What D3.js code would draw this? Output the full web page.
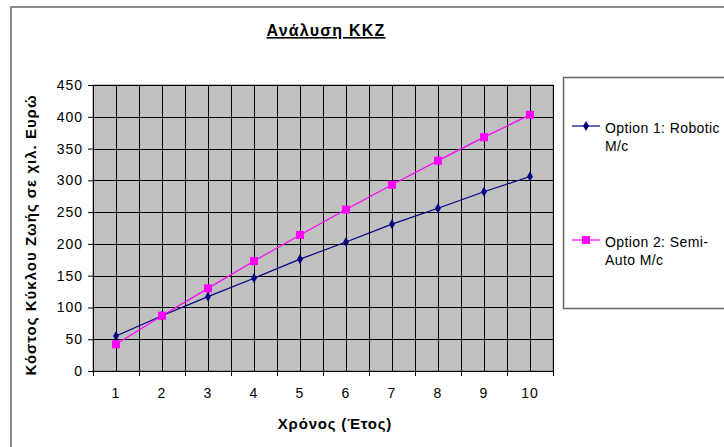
<!DOCTYPE html>
<html>
<head>
<meta charset="utf-8">
<script src="https://cdn.jsdelivr.net/npm/d3@7"></script>
<style>
  body { margin: 0; background: #fff; }
  svg { font-family: "Liberation Sans", Arial, sans-serif; display: block; }
</style>
</head>
<body>
<div id="chart"></div>
<script>
// data
const years = [1, 2, 3, 4, 5, 6, 7, 8, 9, 10];
const robotic = [55, 87, 117, 146, 176, 203, 231, 256, 282, 306];
const semiAuto = [42, 87, 130, 173, 214, 254, 293, 331, 368, 403];
const yTicks = [0, 50, 100, 150, 200, 250, 300, 350, 400, 450];
const seriesNames = [['Option 1: Robotic', 'M/c'], ['Option 2: Semi-', 'Auto M/c']];

const width = 724, height = 447;
const margin = { top: 85, right: 171, bottom: 76, left: 93 };
const innerW = width - margin.left - margin.right;
const innerH = height - margin.top - margin.bottom;

const svg = d3.select('#chart').append('svg')
  .attr('width', width)
  .attr('height', height);

// outer chart border
svg.append('rect')
  .attr('x', 11).attr('y', 7)
  .attr('width', 740).attr('height', 460)
  .attr('fill', 'none').attr('stroke', '#666').attr('stroke-width', 1.5);

const g = svg.append('g')
  .attr('transform', `translate(${margin.left}, ${margin.top})`);

const x = d3.scaleBand().domain(years).range([0, innerW]).padding(0);
const bw = x.bandwidth();
const cx = d => x(d) + bw / 2;
const y = d3.scaleLinear().domain([0, 450]).range([innerH, 0]);

// plot area
g.append('rect')
  .attr('width', innerW).attr('height', innerH)
  .attr('fill', '#c0c0c0').attr('stroke', '#808080');

// vertical gridlines at band edges and centers
const vLines = [];
years.forEach(d => { vLines.push(x(d)); vLines.push(cx(d)); });
vLines.push(innerW);
g.append('g').selectAll('line')
  .data(vLines)
  .join('line')
  .attr('x1', d => Math.round(d) + 0.5).attr('x2', d => Math.round(d) + 0.5)
  .attr('y1', 0).attr('y2', innerH)
  .attr('stroke', '#000').attr('stroke-width', 1);

// horizontal gridlines
g.append('g').selectAll('line')
  .data(yTicks)
  .join('line')
  .attr('x1', 0).attr('x2', innerW)
  .attr('y1', d => Math.round(y(d)) + 0.5).attr('y2', d => Math.round(y(d)) + 0.5)
  .attr('stroke', '#000').attr('stroke-width', 1);

// y axis
g.append('g')
  .call(d3.axisLeft(y).tickValues(yTicks).tickSize(5).tickPadding(5))
  .call(a => {
    a.selectAll('.tick text')
      .attr('font-size', '14px').attr('letter-spacing', '1px').attr('fill', '#000');
    a.selectAll('line, path').attr('stroke', '#000');
  });

// x axis: ticks at band edges, labels at centers
const xAxis = g.append('g').attr('transform', `translate(0, ${innerH})`);
xAxis.append('line')
  .attr('x1', 0).attr('x2', innerW)
  .attr('y1', 0.5).attr('y2', 0.5).attr('stroke', '#000');
xAxis.selectAll('.edge')
  .data(years.map(d => x(d)).concat([innerW]))
  .join('line')
  .attr('class', 'edge')
  .attr('x1', d => Math.round(d) + 0.5).attr('x2', d => Math.round(d) + 0.5)
  .attr('y1', 0).attr('y2', 5)
  .attr('stroke', '#000');
xAxis.selectAll('text')
  .data(years)
  .join('text')
  .attr('x', d => cx(d))
  .attr('y', 27)
  .attr('text-anchor', 'middle')
  .attr('font-size', '14px')
  .attr('letter-spacing', '1px')
  .text(d => d);

// series
const line = d3.line().x((d, i) => cx(years[i])).y(d => y(d));

g.append('path')
  .datum(robotic)
  .attr('d', line)
  .attr('fill', 'none').attr('stroke', '#000080').attr('stroke-width', 1.2);

g.append('path')
  .datum(semiAuto)
  .attr('d', line)
  .attr('fill', 'none').attr('stroke', '#ff00ff').attr('stroke-width', 1.2);

const diamond = d3.symbol().type(d3.symbolDiamond).size(30);

g.append('g').selectAll('path')
  .data(robotic)
  .join('path')
  .attr('transform', (d, i) => `translate(${cx(years[i])}, ${y(d)})`)
  .attr('d', diamond)
  .attr('fill', '#000080');

g.append('g').selectAll('rect')
  .data(semiAuto)
  .join('rect')
  .attr('x', (d, i) => cx(years[i]) - 4)
  .attr('y', d => y(d) - 4)
  .attr('width', 8).attr('height', 8)
  .attr('fill', '#ff00ff');

// title
svg.append('text')
  .attr('x', 326).attr('y', 36)
  .attr('text-anchor', 'middle')
  .attr('font-size', '16px').attr('font-weight', 'bold')
  .attr('letter-spacing', '1.2px')
  .attr('text-decoration', 'underline')
  .text('Ανάλυση ΚΚΖ');

// axis titles
svg.append('text')
  .attr('x', 335).attr('y', 429)
  .attr('text-anchor', 'middle')
  .attr('font-size', '15px').attr('font-weight', 'bold')
  .attr('letter-spacing', '0.8px')
  .text('Χρόνος (Έτος)');

svg.append('text')
  .attr('transform', `translate(36, 235) rotate(-90)`)
  .attr('text-anchor', 'middle')
  .attr('font-size', '15px').attr('font-weight', 'bold')
  .attr('letter-spacing', '1px')
  .text('Κόστος Κύκλου Ζωής σε χιλ. Ευρώ');

// legend
const legend = svg.append('g');
legend.append('rect')
  .attr('x', 563.5).attr('y', 77.5)
  .attr('width', 200).attr('height', 231)
  .attr('fill', '#fff').attr('stroke', '#666').attr('stroke-width', 1.5);

const legendY = [126, 240];
const legendColors = ['#000080', '#ff00ff'];
seriesNames.forEach((lines, i) => {
  const ly = legendY[i];
  legend.append('line')
    .attr('x1', 572).attr('x2', 600)
    .attr('y1', ly).attr('y2', ly)
    .attr('stroke', legendColors[i]).attr('stroke-width', 1.2);
  if (i === 0) {
    legend.append('path')
      .attr('transform', `translate(586, ${ly})`)
      .attr('d', diamond).attr('fill', legendColors[i]);
  } else {
    legend.append('rect')
      .attr('x', 582).attr('y', ly - 4)
      .attr('width', 8).attr('height', 8)
      .attr('fill', legendColors[i]);
  }
  lines.forEach((t, j) => {
    legend.append('text')
      .attr('x', 605).attr('y', ly + 7 + j * 18)
      .attr('font-size', '14px')
      .attr('letter-spacing', '0.4px')
      .text(t);
  });
});
</script>
</body>
</html>
